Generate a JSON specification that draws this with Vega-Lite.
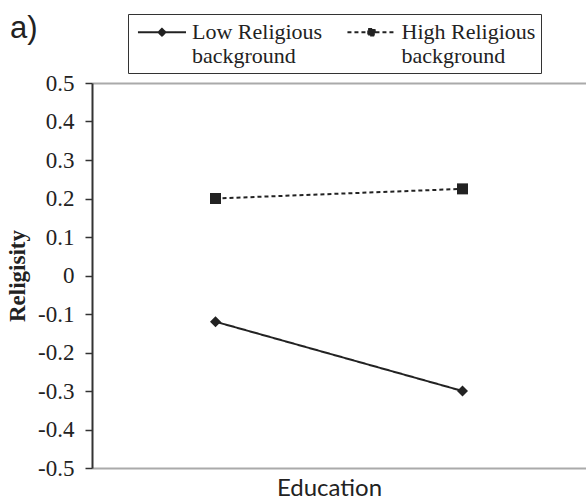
{
  "$schema": "https://vega.github.io/schema/vega-lite/v6.json",
  "width": 494,
  "height": 385,
  "autosize": {"type": "none"},
  "padding": {"left": 92, "top": 83, "right": 0, "bottom": 33},
  "background": "white",
  "config": {"view": {"stroke": null}},
  "title": {
    "text": "a)",
    "anchor": "start",
    "frame": "group",
    "font": "Liberation Sans",
    "fontSize": 31,
    "fontWeight": "normal",
    "color": "#222",
    "dx": -82,
    "baseline": "alphabetic",
    "offset": 0,
    "dy": 55
  },
  "data": {
    "values": [
      {"education": "Low", "background": "Low", "religiosity": -0.12},
      {"education": "High", "background": "Low", "religiosity": -0.30},
      {"education": "Low", "background": "High", "religiosity": 0.20},
      {"education": "High", "background": "High", "religiosity": 0.225}
    ]
  },
  "encoding": {
    "x": {
      "field": "education",
      "type": "ordinal",
      "sort": ["Low", "High"],
      "scale": {"type": "point", "padding": 0.5},
      "axis": {
        "title": "Education",
        "labels": false,
        "ticks": false,
        "domainColor": "#aaa",
        "domainWidth": 2,
        "titleFont": "Lato",
        "titleFontSize": 24,
        "titleFontWeight": "normal",
        "titleColor": "#222",
        "titleX": 237,
        "titleY": 27,
        "titleBaseline": "alphabetic",
        "titleAlign": "center"
      }
    },
    "y": {
      "field": "religiosity",
      "type": "quantitative",
      "scale": {"domain": [-0.5, 0.5], "nice": false, "zero": false},
      "axis": {
        "values": [-0.5, -0.4, -0.3, -0.2, -0.1, 0, 0.1, 0.2, 0.3, 0.4, 0.5],
        "title": "Religisity",
        "titleFont": "Liberation Serif",
        "titleFontSize": 23,
        "titleFontWeight": "bold",
        "titleColor": "#222",
        "titleAngle": -90,
        "titleX": -75,
        "titleY": 192.5,
        "titleAlign": "center",
        "titleBaseline": "middle",
        "labelFont": "Liberation Serif",
        "labelFontSize": 23,
        "labelColor": "#222",
        "labelPadding": 11,
        "labelFlush": false,
        "labelOverlap": false,
        "tickSize": 7,
        "tickColor": "#333",
        "tickWidth": 1.5,
        "domainColor": "#333",
        "domainWidth": 2,
        "grid": true,
        "gridColor": "#aaa",
        "gridWidth": 2,
        "gridOpacity": {"condition": {"test": "datum.value == 0.5", "value": 1}, "value": 0},
        "labelExpr": "datum.value == 0 ? '0' : replace(format(datum.value, '.1f'), '\u2212', '-')"
      }
    }
  },
  "layer": [
    {
      "mark": {"type": "line", "color": "#222", "strokeWidth": 2},
      "encoding": {
        "strokeDash": {
          "field": "background",
          "type": "nominal",
          "scale": {"domain": ["Low", "High"], "range": [[1, 0], [4, 3]]},
          "legend": {
            "orient": "none",
            "legendX": 36,
            "legendY": -69,
            "title": null,
            "direction": "horizontal",
            "columns": 2,
            "columnPadding": 20.5,
            "padding": 5.5,
            "strokeColor": "#333",
            "symbolSize": 529,
            "symbolStrokeWidth": 1.8,
            "symbolStrokeColor": "#222",
            "symbolFillColor": "#222",
            "symbolType": {"expr": "datum.value == 'Low' ? 'M-0.7,0L3.48,0M1.08,0L1.39,-0.31L1.7,0L1.39,0.31Z' : 'M-0.7,0L3.48,0M1.1,-0.29L1.68,-0.29L1.68,0.29L1.1,0.29Z'"},
            "labelFont": "Liberation Serif",
            "labelFontSize": 22,
            "labelLineHeight": 23,
            "labelColor": "#222",
            "labelOffset": 33.5,
            "labelLimit": 300,
            "labelExpr": "datum.value == 'Low' ? ['Low Religious', 'background'] : ['High Religious', 'background']"
          }
        }
      }
    },
    {
      "transform": [{"filter": "datum.background == 'Low'"}],
      "mark": {"type": "point", "shape": "diamond", "filled": true, "color": "#222", "opacity": 1, "size": 121}
    },
    {
      "transform": [{"filter": "datum.background == 'High'"}],
      "mark": {"type": "point", "shape": "square", "filled": true, "color": "#222", "opacity": 1, "size": 121}
    }
  ]
}
